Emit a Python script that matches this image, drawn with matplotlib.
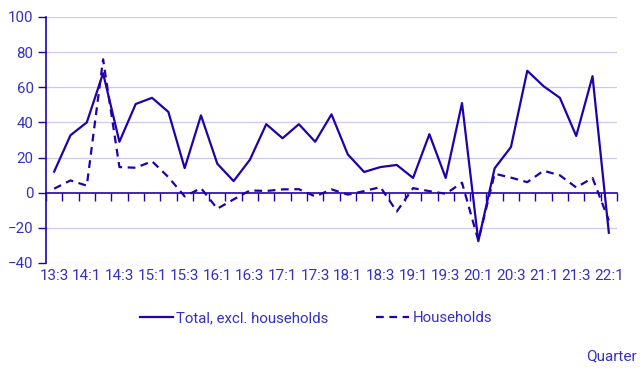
import numpy as np
import matplotlib
matplotlib.use("Agg")
import matplotlib.pyplot as plt

plt.rcParams['font.family'] = ['Roboto', 'DejaVu Sans']

# quarters 13:3 .. 22:1
quarters = ['13:3', '13:4', '14:1', '14:2', '14:3', '14:4', '15:1', '15:2', '15:3', '15:4',
            '16:1', '16:2', '16:3', '16:4', '17:1', '17:2', '17:3', '17:4', '18:1', '18:2',
            '18:3', '18:4', '19:1', '19:2', '19:3', '19:4', '20:1', '20:2', '20:3', '20:4',
            '21:1', '21:2', '21:3', '21:4', '22:1']
total_excl_hh = [12, 32.7, 40, 68, 29, 50.5, 54, 46, 14, 44,
                 16.5, 6.6, 18.8, 39, 31, 39, 29, 44.6, 21.8, 11.8,
                 14.6, 15.8, 8.4, 33.3, 8.4, 51, -27.6, 13.9, 26, 69.4,
                 60.6, 54, 32.3, 66.3, -22.8]
households = [2.3, 7, 4, 75.9, 14.6, 14.2, 17.9, 8.9, -2.1, 2.6,
              -9.1, -3.8, 1.3, 1, 1.9, 2, -2.1, 1.9, -1.1, 0.9,
              3.2, -10.7, 2.6, 0.9, -0.6, 5.7, -27.2, 10.8, 8.6, 6,
              12.5, 9.9, 3, 8.4, -15.8]

line_c = '#2200aa'
text_c = '#3530c8'
grid_c = '#ccccee'

fig = plt.figure(figsize=(6.43, 3.77), dpi=100)
ax = fig.add_axes([46 / 643, 1 - 263 / 377, 571 / 643, 246 / 377])

x = np.arange(len(quarters))
l1, = ax.plot(x, total_excl_hh, color=line_c, lw=1.6)
l2, = ax.plot(x, households, color=line_c, lw=1.6, ls='--', dashes=(3.5, 2.5))

ax.set_xlim(-0.5, len(quarters) - 0.5)
ax.set_ylim(-40, 100)
ax.set_yticks(np.arange(-40, 101, 20))
for v in [-40, -20, 20, 40, 60, 80, 100]:
    ax.axhline(v, color=grid_c, lw=0.9, zorder=0)

for s in ['top', 'right']:
    ax.spines[s].set_visible(False)
ax.spines['left'].set_color(line_c)
ax.spines['left'].set_linewidth(1.2)
ax.spines['bottom'].set_position(('data', 0))
ax.spines['bottom'].set_color(line_c)
ax.spines['bottom'].set_linewidth(1.2)

ax.set_xticks(np.arange(-0.5, len(quarters), 1))
ax.tick_params(axis='x', length=6, width=1, color=line_c, labelbottom=False, direction='out')
ax.tick_params(axis='y', length=6, width=1, color=line_c, labelcolor=text_c, labelsize=10.8, pad=3)

sec = ax.secondary_xaxis('bottom')
sec.set_xticks(x[::2])
sec.set_xticklabels(quarters[::2])
sec.tick_params(length=0, labelcolor=text_c, labelsize=11, pad=4)
sec.spines['bottom'].set_visible(False)

fig.legend([l1, l2], ['Total, excl. households', 'Households'], loc='center',
           bbox_to_anchor=(316 / 643, 1 - 318 / 377), ncol=2, frameon=False,
           fontsize=10.8, labelcolor=text_c, handlelength=2.2, handletextpad=0.2,
           columnspacing=3.2)
fig.text(637 / 643, 1 - 356 / 377, 'Quarter', ha='right', va='center',
         color=text_c, fontsize=11)

fig.savefig('out.png', dpi=100)
